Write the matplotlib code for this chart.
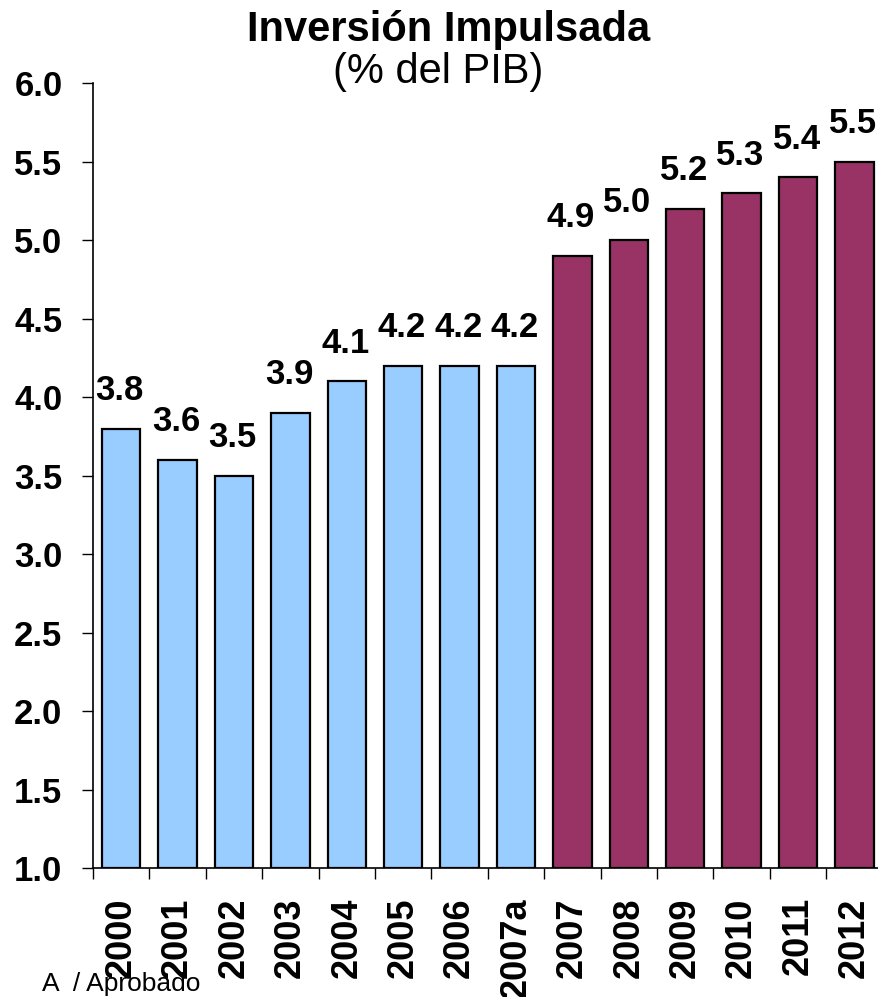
import matplotlib
matplotlib.use("Agg")
import matplotlib.pyplot as plt
import numpy as np

categories = ["2000", "2001", "2002", "2003", "2004", "2005", "2006", "2007a",
              "2007", "2008", "2009", "2010", "2011", "2012"]
values = [3.8, 3.6, 3.5, 3.9, 4.1, 4.2, 4.2, 4.2, 4.9, 5.0, 5.2, 5.3, 5.4, 5.5]
colors = ["#99CCFF"] * 8 + ["#993366"] * 6
y_ticks = [1.0, 1.5, 2.0, 2.5, 3.0, 3.5, 4.0, 4.5, 5.0, 5.5, 6.0]

plt.rcParams['font.family'] = ['Liberation Sans', 'DejaVu Sans']

fig = plt.figure(figsize=(8.79, 9.97), dpi=100)
ax = fig.add_axes([93/879, 129/997, 789.6/879, (868-83.3)/997])

x = np.arange(len(categories))
ax.bar(x, [v - 1.0 for v in values], bottom=1.0, width=0.68, color=colors,
       edgecolor="black", linewidth=1.6, zorder=3)

for xi, v in zip(x, values):
    ax.annotate(f"{v:.1f}", (xi, v), xytext=(-1, 20.5), textcoords="offset points",
                ha="center", va="baseline", fontsize=25, fontweight="bold")

ax.set_ylim(1.0, 6.0)
ax.set_xlim(-0.5, len(categories) - 0.5)
ax.set_yticks(y_ticks)
ax.set_yticklabels([f"{t:.1f}" for t in y_ticks], fontsize=25, fontweight="bold")
ax.set_xticks(x)
ax.set_xticklabels(categories, rotation=90, fontsize=26, fontweight="bold")
ax.set_xticks(np.arange(len(categories)) - 0.5, minor=True)

ax.tick_params(axis="y", direction="out", length=8, width=1, pad=14)
ax.tick_params(axis="x", which="major", length=0, pad=21)
ax.tick_params(axis="x", which="minor", direction="out", length=8, width=1)

for s in ["top", "right"]:
    ax.spines[s].set_visible(False)
for s in ["left", "bottom"]:
    ax.spines[s].set_linewidth(1.2)
    ax.spines[s].set_color("black")

fig.text(449/879, 1 - 41/997, "Inversión Impulsada", ha="center", va="baseline",
         fontsize=30, fontweight="bold")
fig.text(438.5/879, 1 - 83/997, "(% del PIB)", ha="center", va="baseline",
         fontsize=30)
fig.text(42/879, 6.5/997, "A  / Aprobado", ha="left", va="baseline", fontsize=19)

fig.savefig("out.png", dpi=100)
